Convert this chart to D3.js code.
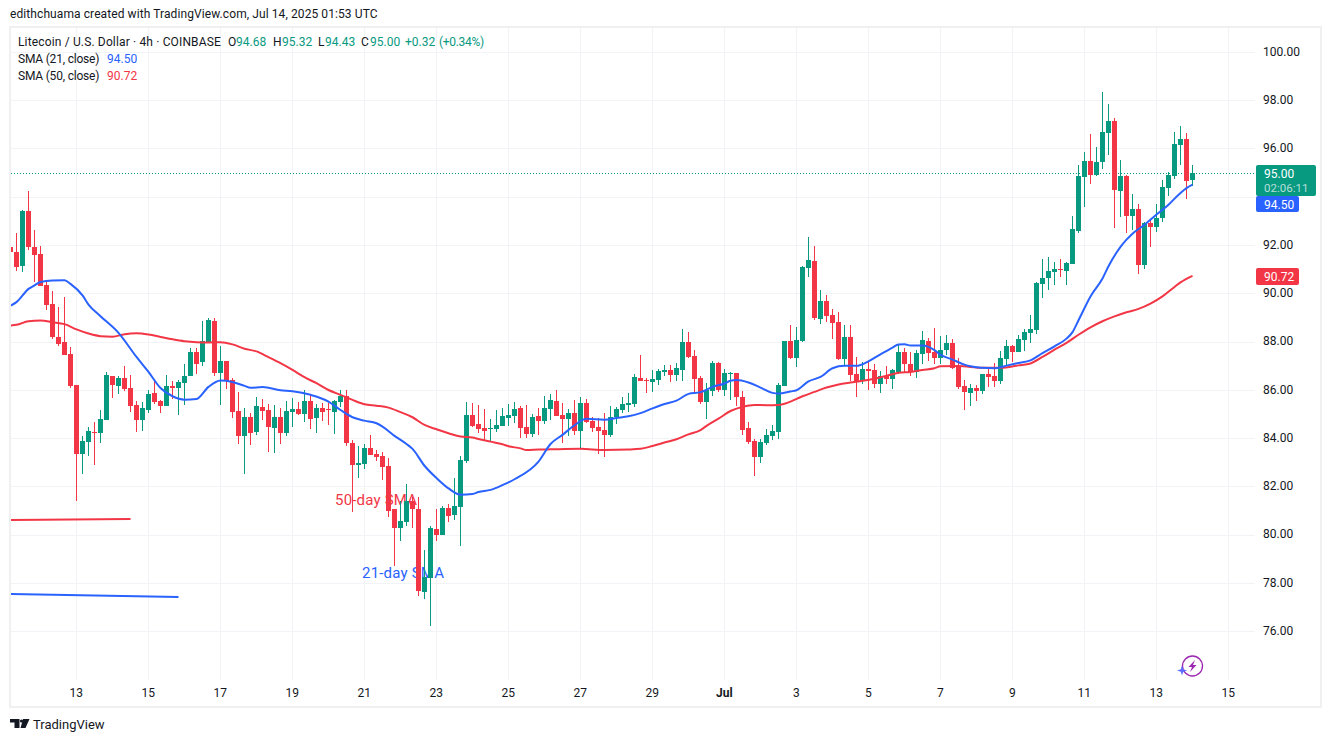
<!DOCTYPE html>
<html>
<head>
<meta charset="utf-8">
<title>LTC/USD 4h</title>
<script src="https://cdnjs.cloudflare.com/ajax/libs/d3/7.8.5/d3.min.js"></script>
<style>
  html, body { margin: 0; padding: 0; background: #fff; }
  svg { display: block; font-family: Roboto, "Liberation Sans", sans-serif; }
  .domain, .tick line { display: none; }
</style>
</head>
<body>
<svg id="chart" width="1331" height="742"></svg>
<script>
// candles, one per 4h bar
const opens = [
  91.90,91.73,91.11,93.43,91.90,91.61,90.36,89.57,88.20,87.96,
  87.50,86.21,83.35,83.85,84.26,84.22,84.76,86.59,86.17,86.50,
  86.09,85.38,84.76,85.18,85.88,85.55,85.34,86.17,86.09,86.30,
  86.55,87.58,87.13,87.96,88.87,86.71,87.21,86.42,85.13,84.10,
  84.87,84.25,85.29,85.16,84.42,84.87,84.21,85.08,85.21,85.00,
  85.54,84.83,85.25,85.21,85.08,85.50,85.75,83.80,82.88,82.92,
  83.59,83.34,83.26,82.84,81.06,80.27,80.52,81.39,81.06,77.61,
  78.19,80.23,79.98,81.10,80.81,81.14,83.05,84.96,84.58,84.42,
  84.39,84.38,84.50,84.83,84.92,85.25,84.46,84.17,84.92,84.71,
  85.21,85.54,84.96,84.79,85.04,84.29,85.46,84.71,84.46,84.33,
  84.13,84.87,85.16,85.37,85.41,86.49,86.41,86.33,86.41,86.74,
  86.82,86.62,86.82,87.99,87.41,86.49,85.50,85.94,87.10,85.98,
  86.64,86.69,85.69,84.40,83.86,83.20,83.78,84.07,84.24,86.15,
  88.01,87.31,88.01,91.04,91.33,88.93,89.67,89.09,88.80,87.27,
  88.18,86.64,86.35,86.85,86.81,86.23,86.56,86.44,86.73,87.56,
  87.06,86.73,87.47,88.01,87.56,87.33,87.66,87.95,86.96,86.17,
  85.88,86.09,85.96,86.67,86.58,86.38,87.29,87.83,87.58,88.08,
  88.37,88.49,90.40,90.65,90.90,91.02,90.94,91.23,92.60,94.83,
  95.50,94.92,95.46,96.66,97.12,94.25,94.88,93.22,93.51,91.19,
  92.93,92.76,93.13,94.38,94.88,96.16,96.41,94.68];
const closes = [
  91.70,91.08,93.43,91.90,91.57,90.32,89.53,88.20,87.91,87.46,
  86.17,83.35,83.89,84.30,84.22,84.80,86.63,86.21,86.50,86.05,
  85.34,84.76,85.26,85.84,85.51,85.34,86.17,86.09,86.34,86.59,
  87.58,87.08,88.04,88.91,86.71,87.21,86.38,85.09,84.10,84.89,
  84.21,85.33,85.12,84.46,84.87,84.21,85.12,85.21,85.00,85.54,
  84.79,85.25,85.08,85.16,85.54,85.75,83.80,82.88,82.97,83.59,
  83.30,83.21,82.80,80.97,80.27,80.56,81.39,81.06,77.65,78.23,
  80.27,79.98,81.10,80.77,81.18,83.09,84.96,84.50,84.38,84.29,
  84.42,84.54,84.92,84.96,85.21,84.42,84.17,84.87,84.71,85.25,
  85.58,84.92,84.79,85.04,84.29,85.46,84.67,84.42,84.29,84.13,
  84.87,85.21,85.41,85.46,86.53,86.37,86.37,86.45,86.78,86.82,
  86.62,86.91,87.99,87.36,86.45,85.50,86.00,87.10,85.98,86.69,
  86.69,85.69,84.32,83.82,83.20,83.82,84.11,84.28,86.19,88.01,
  87.31,88.06,91.08,91.37,88.97,89.67,89.05,88.76,87.27,88.18,
  86.60,86.31,86.85,86.77,86.23,86.56,86.44,86.81,87.56,87.06,
  86.73,87.52,88.06,87.52,87.31,87.66,87.95,86.91,86.13,85.92,
  86.09,85.96,86.67,86.54,86.38,87.33,87.83,87.58,88.12,88.41,
  88.53,90.44,90.65,90.94,91.02,90.98,91.27,92.68,94.88,95.50,
  94.92,95.46,96.70,97.16,94.30,94.88,93.22,93.51,91.19,92.93,
  92.76,93.13,94.42,94.92,96.20,96.41,94.67,95.00];
const highs = [
  92.23,92.48,93.47,94.22,92.64,91.94,90.49,90.11,89.45,89.86,
  87.79,86.21,84.10,84.47,84.68,85.18,86.75,86.59,86.59,87.00,
  86.63,85.55,85.51,86.00,86.38,85.59,86.63,86.38,86.42,87.08,
  87.75,87.75,88.87,88.99,88.99,87.83,87.21,86.50,85.92,85.26,
  85.04,85.70,85.62,85.41,85.37,85.25,85.54,85.66,85.50,85.99,
  85.79,85.41,85.46,85.46,85.58,85.99,85.99,83.92,83.67,83.75,
  84.13,83.50,83.42,83.17,81.06,81.39,82.09,81.55,81.55,79.36,
  80.35,81.06,81.18,81.26,82.34,83.26,85.50,85.46,85.37,85.21,
  84.79,85.16,85.25,85.41,85.50,85.33,85.37,85.00,85.25,85.75,
  85.83,86.00,85.46,85.21,85.58,85.70,85.62,84.87,84.83,85.04,
  85.33,85.29,85.70,85.87,86.66,87.45,86.49,86.82,86.87,87.03,
  87.03,87.11,88.53,88.40,87.65,86.58,86.28,87.18,87.14,86.85,
  86.73,86.69,85.94,84.65,83.95,83.95,84.36,84.53,86.27,88.01,
  88.68,88.59,91.13,92.33,91.96,90.13,89.92,89.34,89.22,88.68,
  88.68,87.35,87.14,87.14,87.06,86.77,86.98,86.85,87.85,87.72,
  87.56,87.64,88.43,88.14,88.57,88.24,88.28,88.12,87.33,86.42,
  86.25,86.21,86.67,86.92,87.12,87.62,88.08,87.87,88.28,88.53,
  89.11,90.48,91.43,91.52,91.31,91.43,91.31,93.22,95.33,95.87,
  96.62,96.08,98.36,97.86,97.28,95.54,94.92,94.13,93.72,92.97,
  93.05,93.72,94.71,95.04,96.70,96.95,96.66,95.32];
const lows = [
  91.57,90.94,90.87,91.81,90.45,90.32,89.32,88.12,87.83,87.42,
  86.09,81.40,82.52,83.27,82.89,83.81,84.76,85.67,85.84,85.96,
  85.09,84.26,84.30,85.05,85.42,85.05,85.34,85.63,84.97,85.38,
  86.55,86.67,87.00,87.96,86.55,85.38,86.05,84.84,83.76,82.52,
  83.71,84.13,84.75,83.42,83.38,83.75,84.09,84.46,84.96,84.67,
  84.38,84.21,84.71,84.54,84.17,85.29,83.67,80.93,82.34,82.72,
  83.30,83.05,82.26,80.72,78.69,79.73,80.35,80.27,77.45,77.32,
  76.20,79.73,79.98,80.52,80.60,79.52,82.97,84.46,84.21,83.92,
  83.88,84.25,84.50,84.50,84.63,84.00,84.00,84.04,84.13,84.58,
  84.75,84.92,83.80,84.09,84.13,83.59,84.63,84.25,83.34,83.21,
  84.04,84.58,85.04,85.08,85.29,86.37,85.87,85.91,86.20,86.58,
  86.33,86.37,86.37,87.32,85.91,85.41,84.79,85.73,85.90,85.73,
  85.57,85.32,84.11,83.74,82.41,82.95,83.70,83.91,83.95,86.15,
  87.27,86.93,87.97,90.67,88.89,88.72,88.80,88.10,87.23,87.02,
  86.35,85.69,86.23,85.98,86.06,85.86,86.23,86.02,86.64,86.73,
  86.56,86.48,87.06,87.18,87.08,87.08,87.45,86.87,86.04,85.17,
  85.34,85.55,85.84,86.13,86.13,86.25,87.00,87.16,87.58,87.62,
  87.95,88.32,89.82,90.15,90.36,90.69,90.36,91.23,92.51,93.59,
  94.54,94.88,95.13,95.75,92.72,93.18,92.51,92.64,90.81,91.02,
  91.93,92.55,92.97,94.05,94.75,95.33,93.92,94.43];

// SMA lines, read at these bars
const sma21Bars = [
  0,1,3,4,5,7,9,10,12,13,15,18,21,23,25,27,29,31,33,35,
  37,39,40,42,45,47,50,53,55,57,59,61,62,64,66,67,69,71,73,75,
  77,78,80,82,84,88,90,92,94,96,99,101,103,105,107,109,111,113,115,117,
  119,120,121,123,125,127,128,130,131,133,135,137,139,141,143,145,147,148,149,150,
  152,154,155,157,159,160,162,164,166,168,170,172,174,176,177,178,180,182,183,185,
  186,187,189,191,193,195,196,197];
const sma21 = [
  89.49,89.63,90.18,90.33,90.47,90.53,90.54,90.39,89.91,89.53,
  89.05,88.36,87.36,86.74,86.07,85.73,85.59,85.62,86.12,86.38,
  86.32,86.16,86.08,86.11,85.98,85.94,85.79,85.51,85.16,84.86,
  84.72,84.61,84.47,84.09,83.75,83.55,82.85,82.34,81.91,81.65,
  81.68,81.76,81.85,82.05,82.29,83.02,83.75,84.13,84.53,84.80,
  84.76,84.83,84.90,85.03,85.23,85.41,85.55,85.83,85.90,86.12,
  86.26,86.37,86.40,86.30,86.09,85.87,85.84,85.93,85.98,86.35,
  86.53,86.89,86.99,86.99,87.18,87.47,87.75,87.88,87.89,87.83,
  87.83,87.64,87.45,87.25,87.04,86.97,86.91,86.89,87.00,87.11,
  87.22,87.52,87.80,88.12,88.39,88.88,89.87,90.61,91.12,91.92,
  92.22,92.47,92.84,93.26,93.67,94.16,94.36,94.50];
const sma50Bars = [
  0,1,3,5,7,9,11,13,15,17,19,21,23,25,27,29,31,33,35,37,
  39,41,43,45,47,49,51,53,55,57,59,61,63,65,67,69,71,73,75,77,
  78,80,82,83,85,86,88,90,95,99,103,105,107,109,111,113,115,116,118,120,
  122,124,126,128,130,132,134,136,138,140,142,144,146,148,150,152,154,155,158,162,
  165,168,170,172,174,176,178,180,182,184,186,188,190,192,194,195,197];
const sma50 = [
  88.66,88.69,88.84,88.87,88.80,88.72,88.50,88.33,88.22,88.20,
  88.30,88.34,88.29,88.19,88.09,88.01,87.97,87.96,87.97,87.88,
  87.70,87.59,87.35,87.10,86.82,86.52,86.27,85.99,85.79,85.58,
  85.40,85.34,85.26,85.07,84.86,84.54,84.36,84.20,84.06,84.02,
  83.96,83.85,83.74,83.66,83.57,83.50,83.52,83.53,83.55,83.50,
  83.52,83.55,83.67,83.81,83.95,84.15,84.33,84.50,84.80,85.12,
  85.29,85.37,85.36,85.37,85.51,85.73,85.91,86.09,86.22,86.30,
  86.37,86.46,86.58,86.70,86.74,86.82,86.89,86.97,86.98,86.91,
  86.91,87.01,87.09,87.36,87.66,87.94,88.28,88.59,88.84,89.04,
  89.21,89.35,89.57,89.87,90.26,90.45,90.72];

// drawn legend segments (bar, price)
const legend50Line = [[0, 80.60], [20, 80.64]];
const legend21Line = [[0, 77.53], [28, 77.41]];

const tickBars = [11,23,35,47,59,71,83,95,107,119,131,143,155,167,179,191,203];
const tickLabels = ["13","15","17","19","21","23","25","27","29","Jul","3","5","7","9","11","13","15"];
const priceTicks = [100,98,96,94,92,90,88,86,84,82,80,78,76];
// 94.00 has a grid line but its label is hidden behind the price tags
const priceLabels = [100,98,96,92,90,88,86,84,82,80,78,76];

const green = "#089981", red = "#f23645", blue = "#2962ff", ink = "#131722", grid = "#f2f3f6", frame = "#f0f0f0";
const paneL = 11, paneR = 1255, paneT = 28, paneB = 680;

const x = d3.scaleLinear().domain([11, 191]).range([76.5, 1156.5]);
const y = d3.scaleLinear().domain([100, 76]).range([52, 631]);
const svg = d3.select("#chart");

svg.append("clipPath").attr("id", "pane").append("rect")
    .attr("x", paneL).attr("y", paneT).attr("width", paneR - paneL).attr("height", paneB - paneT);

// frame
svg.append("rect").attr("x", 10).attr("y", 27).attr("width", 1311).attr("height", 680)
    .attr("fill", "none").attr("stroke", frame).attr("stroke-width", 2);

// grid
svg.append("g").selectAll("line").data(tickBars).join("line")
    .attr("x1", d => x(d)).attr("x2", d => x(d)).attr("y1", paneT).attr("y2", paneB)
    .attr("stroke", grid);
svg.append("g").selectAll("line").data(priceTicks).join("line")
    .attr("x1", paneL).attr("x2", paneR).attr("y1", d => Math.round(y(d)) + 0.5).attr("y2", d => Math.round(y(d)) + 0.5)
    .attr("stroke", grid);

// axes
const yAxis = d3.axisRight(y).tickValues(priceLabels).tickSize(0).tickFormat(d3.format(".2f"));
svg.append("g").attr("transform", "translate(1260,-0.5)").call(yAxis)
    .call(g => g.selectAll("text").attr("font-size", 12).attr("fill", ink).attr("font-family", "Roboto"));

const xAxis = d3.axisBottom(x).tickValues(tickBars).tickSize(0)
    .tickFormat(d => tickLabels[tickBars.indexOf(d)]);
svg.append("g").attr("transform", "translate(-0.7,685)").call(xAxis)
    .call(g => g.selectAll("text").attr("font-size", 12).attr("fill", ink).attr("font-family", "Roboto")
        .attr("font-weight", (d, i) => tickLabels[i] === "Jul" ? 700 : 400));

const plot = svg.append("g").attr("clip-path", "url(#pane)");

// last price line
plot.append("line").attr("x1", paneL).attr("x2", paneR)
    .attr("y1", Math.round(y(95)) + 0.5).attr("y2", Math.round(y(95)) + 0.5)
    .attr("stroke", green).attr("stroke-dasharray", "1 2");

// hand drawn labels sit under the candles
plot.append("text").attr("x", 335).attr("y", 505).attr("font-size", 15).attr("letter-spacing", 0.2).attr("fill", red).text("50-day SMA");
plot.append("text").attr("x", 362).attr("y", 578).attr("font-size", 15).attr("letter-spacing", 0.2).attr("fill", blue).text("21-day SMA");

const barLine = d3.line().x(d => x(d[0])).y(d => y(d[1]));
plot.append("path").attr("d", barLine(legend50Line)).attr("fill", "none").attr("stroke", red).attr("stroke-width", 2);
plot.append("path").attr("d", barLine(legend21Line)).attr("fill", "none").attr("stroke", blue).attr("stroke-width", 2);

// candles
const bars = d3.range(opens.length);
const color = i => closes[i] >= opens[i] ? green : red;
const py = v => Math.round(y(v));
plot.append("g").selectAll("rect").data(bars).join("rect")
    .attr("x", i => x(i) - 0.5).attr("width", 1)
    .attr("y", i => py(highs[i])).attr("height", i => py(lows[i]) - py(highs[i]))
    .attr("fill", color);
plot.append("g").selectAll("rect").data(bars).join("rect")
    .attr("x", i => x(i) - 2.5).attr("width", 5)
    .attr("y", i => py(Math.max(opens[i], closes[i])))
    .attr("height", i => Math.max(1, Math.abs(py(opens[i]) - py(closes[i]))))
    .attr("fill", color);

// moving averages
const smaLine = d3.line().curve(d3.curveMonotoneX);
plot.append("path")
    .attr("d", smaLine(sma50Bars.map((b, i) => [x(b), y(sma50[i])])))
    .attr("fill", "none").attr("stroke", red).attr("stroke-width", 2).attr("stroke-linejoin", "round");
plot.append("path")
    .attr("d", smaLine(sma21Bars.map((b, i) => [x(b), y(sma21[i])])))
    .attr("fill", "none").attr("stroke", blue).attr("stroke-width", 2).attr("stroke-linejoin", "round");

// price tags on the axis
function tag(top, w, h, fill, label, sub) {
    svg.append("rect").attr("x", 1256).attr("y", top).attr("width", w).attr("height", h).attr("rx", 2).attr("fill", fill);
    svg.append("text").attr("x", 1264).attr("y", top + 12.5).attr("font-size", 12).attr("fill", "#fff").text(label);
    if (sub) svg.append("text").attr("x", 1264).attr("y", top + 27).attr("font-size", 11.5).attr("fill", "#fff").attr("fill-opacity", 0.7).text(sub);
}
tag(165, 60, 31, green, "95.00", "02:06:11");
tag(196, 43, 16, blue, "94.50");
tag(268, 43, 17, red, "90.72");

// header
function label(px, py, txt, fill, size, spacing) {
    svg.append("text").attr("x", px).attr("y", py).attr("font-size", size || 12)
        .attr("letter-spacing", spacing || 0).attr("fill", fill || ink).text(txt);
}
label(10, 18, "edithchuama created with TradingView.com, Jul 14, 2025 01:53 UTC", ink, 12, 0.09);
label(18, 46, "Litecoin / U.S. Dollar \u00b7 4h \u00b7 COINBASE", ink, 12, 0.15);
label(228, 46, "O"); label(236, 46, "94.68", green);
label(273, 46, "H"); label(282, 46, "95.32", green);
label(318, 46, "L"); label(325, 46, "94.43", green);
label(361, 46, "C"); label(370, 46, "95.00", green);
label(405, 46, "+0.32", green); label(439, 46, "(+0.34%)", green, 12, -0.3);
label(18, 63, "SMA (21, close)", ink, 12, -0.2); label(107, 63, "94.50", blue);
label(18, 80, "SMA (50, close)", ink, 12, -0.2); label(107, 80, "90.72", red);

// the flash icon near the last bar
const icon = svg.append("g").attr("transform", "translate(1192.5,666)");
icon.append("circle").attr("r", 10).attr("fill", "#fff").attr("stroke", "#9c27b0").attr("stroke-width", 1.3);
icon.append("path").attr("d", "M2.5,-6 L-4,1 L-0.5,1 L-2.5,6 L4,-1 L0.5,-1 Z").attr("fill", "#9c27b0");
svg.append("path").attr("transform", "translate(1182,670.5)")
    .attr("d", "M0,-5 L1.2,-1.2 L5,0 L1.2,1.2 L0,5 L-1.2,1.2 L-5,0 L-1.2,-1.2 Z").attr("fill", "#5b6cff");

// footer logo
svg.append("path").attr("fill", ink)
    .attr("d", "M10,719 H19.5 V728 H14.5 V722.5 H10 Z M23,719 H29.5 L25.5,728 H20.5 Z");
svg.append("circle").attr("cx", 21.5).attr("cy", 721).attr("r", 1.6).attr("fill", ink);
label(33, 729, "TradingView", ink, 13);
</script>
</body>
</html>
